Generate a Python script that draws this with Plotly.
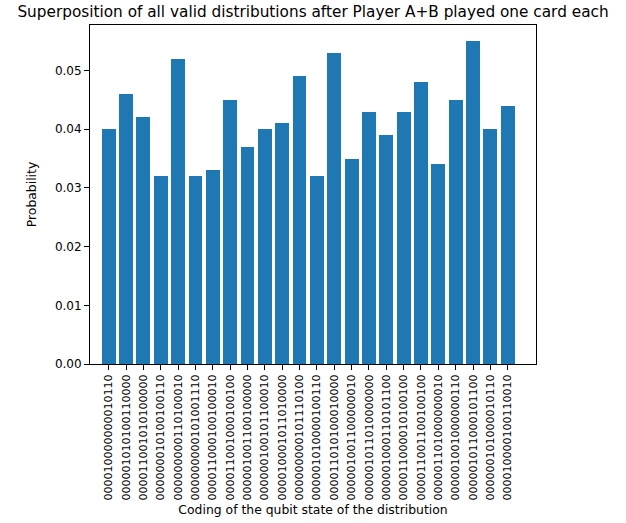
import plotly.graph_objects as go

# qubit state codings (x tick labels)
states = [
    "000010000000010110",
    "000001010100110000",
    "000011001010100000",
    "000000010100100110",
    "000000000110100010",
    "000000000101001110",
    "000011000100100010",
    "000011001000100100",
    "000001001100100000",
    "000000100101100010",
    "000010001011010000",
    "000000000101110100",
    "000001010000100110",
    "000011010100010000",
    "000001001100000010",
    "000001011010000000",
    "000001000110101100",
    "000011000010100100",
    "000011001100100100",
    "000001101000000010",
    "000001001000000110",
    "000001011000101100",
    "000000101000010110",
    "000010000100110010",
]

# probability of each state
probs = [
    0.040, 0.046, 0.042, 0.032, 0.052, 0.032, 0.033, 0.045,
    0.037, 0.040, 0.041, 0.049, 0.032, 0.053, 0.035, 0.043,
    0.039, 0.043, 0.048, 0.034, 0.045, 0.055, 0.040, 0.044,
]

y_ticks = [0.0, 0.01, 0.02, 0.03, 0.04, 0.05]

fig = go.Figure()

fig.add_trace(
    go.Bar(
        x=list(range(len(states))),
        y=probs,
        width=0.8,
        marker=dict(color="#1f77b4", line=dict(width=0)),
        name="probability",
    )
)

axis_style = dict(
    showline=True,
    linecolor="black",
    linewidth=1,
    mirror=True,
    ticks="outside",
    ticklen=5,
    tickwidth=1,
    tickcolor="black",
    showgrid=False,
    zeroline=False,
    automargin=False,
)

fig.update_layout(
    width=626,
    height=523,
    margin=dict(l=90, r=90, t=25, b=159, pad=0),
    plot_bgcolor="white",
    paper_bgcolor="white",
    font=dict(family="DejaVu Sans", color="black"),
    showlegend=False,
    bargap=0,
    title=dict(
        text="Superposition of all valid distributions after Player A+B played one card each",
        x=313 / 626,
        xanchor="center",
        y=1 - 12 / 523,
        yanchor="middle",
        font=dict(size=15.3, color="black"),
    ),
    xaxis=dict(
        **axis_style,
        range=[-1.08, 24.63],
        tickmode="array",
        tickvals=list(range(len(states))),
        ticktext=states,
        tickangle=-90,
        tickfont=dict(size=11, color="black"),
        title=dict(
            text="Coding of the qubit state of the distribution",
            font=dict(size=12.4, color="black"),
            standoff=5,
        ),
    ),
    yaxis=dict(
        **axis_style,
        range=[0, 0.05775],
        tickmode="array",
        tickvals=y_ticks,
        ticktext=[f"{v:.2f}" for v in y_ticks],
        tickfont=dict(size=12, color="black"),
        title=dict(
            text="Probability",
            font=dict(size=12.4, color="black"),
            standoff=15,
        ),
    ),
)

# drop the browser's default page margin so the figure sits at the top-left
fig.write_html(
    "out.html",
    config={"displayModeBar": False},
    post_script="document.body.style.margin='0';",
)
